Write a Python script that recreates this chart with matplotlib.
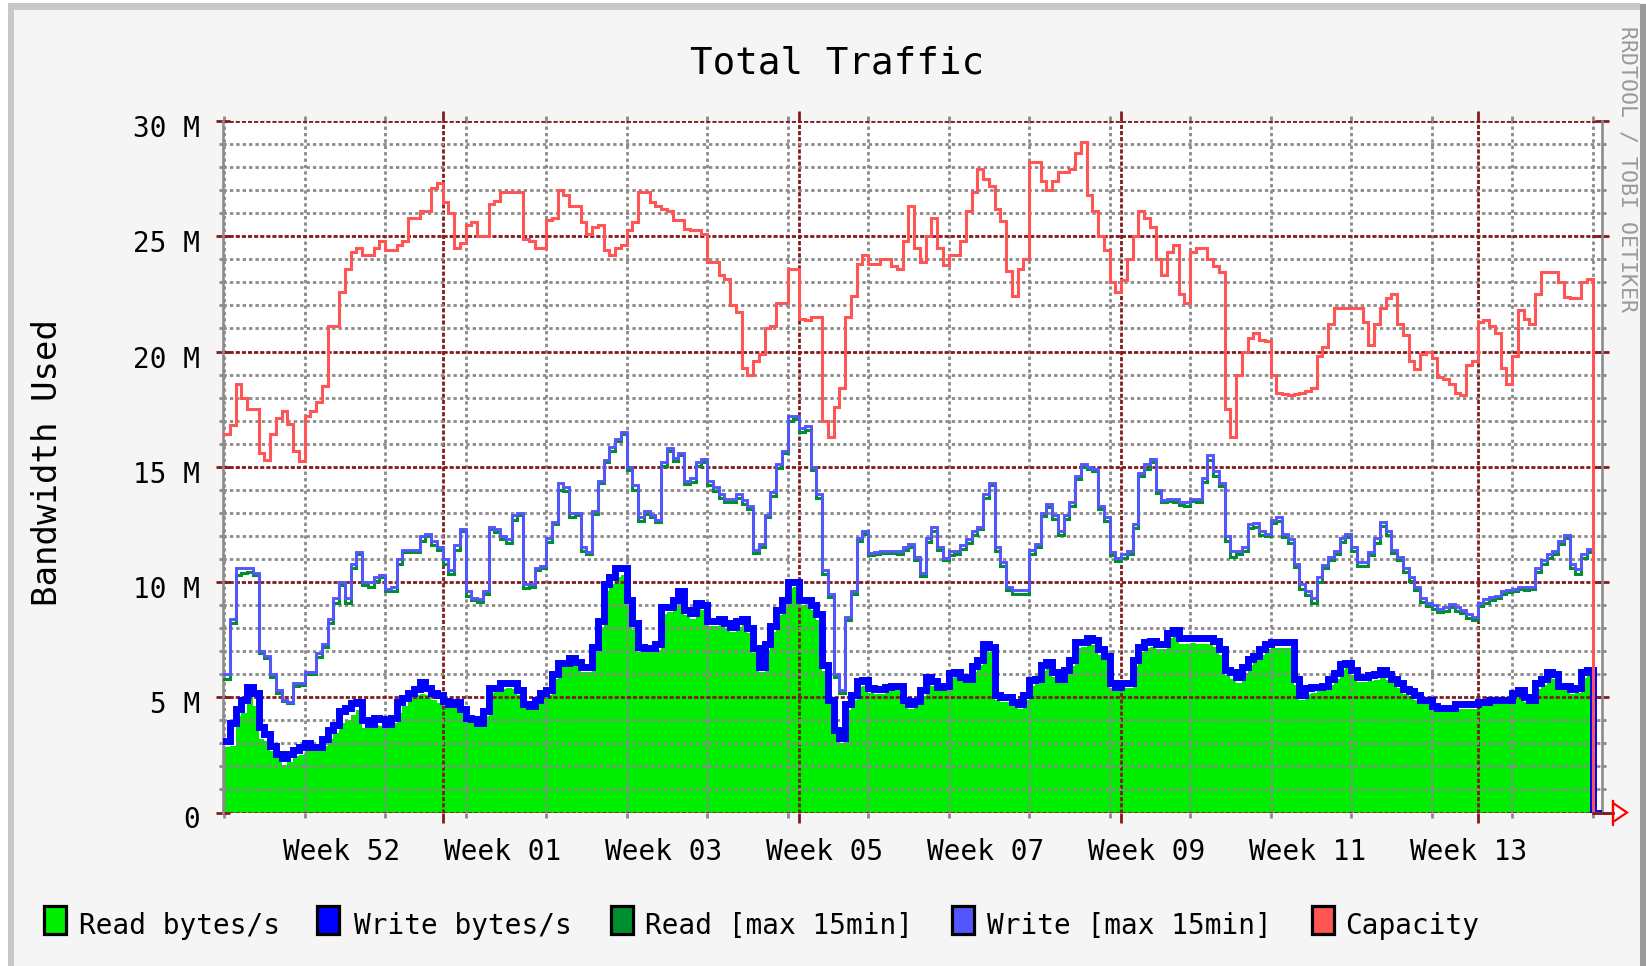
import numpy as np
import pandas as pd
import matplotlib
matplotlib.use("Agg")
import matplotlib.pyplot as plt
import matplotlib.dates as mdates
from matplotlib.ticker import MultipleLocator
from matplotlib.patches import Rectangle, Polygon
from matplotlib.lines import Line2D
from matplotlib.transforms import ScaledTranslation

W, H, DPI = 1646, 966, 100
MONO = "DejaVu Sans Mono"

# ---------------- data (values in M bytes/s, one value per 12 h) ----------------
start = "2010-12-13 00:00"
step = "12h"

capacity = [
    16.4, 16.8, 18.6, 18.0, 17.5, 17.5, 15.6, 15.3, 16.4, 17.1,
    17.4, 16.85, 15.7, 15.25, 17.2, 17.4, 17.8, 18.5, 21.1, 21.1,
    22.6, 23.6, 24.3, 24.5, 24.2, 24.2, 24.5, 24.8, 24.4, 24.4,
    24.6, 24.8, 25.8, 25.8, 26.1, 26.1, 27.1, 27.3, 26.5, 26.0,
    24.5, 24.7, 25.5, 25.6, 25.0, 25.0, 26.4, 26.55, 26.9, 26.9,
    26.9, 26.9, 24.9, 24.8, 24.5, 24.5, 25.7, 25.8, 27.0, 26.8,
    26.3, 26.3, 25.6, 25.1, 25.4, 25.5, 24.4, 24.2, 24.5, 24.6,
    25.25, 25.6, 26.9, 26.9, 26.5, 26.3, 26.2, 26.1, 25.7, 25.7,
    25.3, 25.25, 25.25, 25.1, 23.9, 23.9, 23.3, 23.15, 22.0, 21.7,
    19.3, 19.0, 19.6, 19.9, 21.0, 21.1, 22.1, 22.1, 23.6, 23.6,
    21.4, 21.35, 21.5, 21.5, 17.0, 16.3, 17.6, 18.4, 21.5, 22.4,
    23.8, 24.2, 23.8, 23.8, 24.0, 24.0, 23.7, 23.6, 24.8, 26.3,
    24.5, 23.9, 25.0, 25.8, 24.5, 23.75, 24.2, 24.2, 24.8, 26.1,
    26.9, 27.9, 27.5, 27.2, 26.2, 25.65, 23.5, 22.4, 23.6, 24.0,
    28.2, 28.2, 27.4, 27.0, 27.4, 27.8, 27.8, 27.9, 28.6, 29.1,
    26.8, 26.1, 25.0, 24.4, 23.0, 22.6, 23.1, 24.0, 25.0, 26.1,
    25.8, 25.4, 24.0, 23.3, 24.3, 24.6, 22.5, 22.1, 24.3, 24.5,
    24.5, 24.0, 23.7, 23.45, 17.5, 16.3, 19.0, 20.0, 20.6, 20.8,
    20.5, 20.45, 19.0, 18.2, 18.15, 18.1, 18.15, 18.2, 18.3, 18.4,
    19.8, 20.2, 21.2, 21.9, 21.9, 21.9, 21.9, 21.9, 21.3, 20.3,
    21.2, 21.9, 22.3, 22.5, 21.2, 20.7, 19.6, 19.25, 19.9, 20.0,
    19.7, 18.9, 18.8, 18.6, 18.2, 18.1, 19.4, 19.6, 21.3, 21.35,
    21.1, 20.8, 19.3, 18.6, 19.8, 21.8, 21.4, 21.2, 22.5, 23.45,
    23.45, 23.45, 23.0, 22.35, 22.3, 22.3, 23.0, 23.15,
]

write_max = [
    6.0, 8.4, 10.6, 10.6, 10.6, 10.4, 7.0, 6.8, 6.0, 5.3,
    4.9, 4.8, 5.6, 5.6, 6.1, 6.1, 6.9, 7.3, 8.4, 9.3,
    10.0, 9.3, 10.8, 11.3, 10.0, 10.0, 10.2, 10.3, 9.7, 9.8,
    11.0, 11.4, 11.4, 11.4, 12.0, 12.1, 11.8, 11.5, 11.0, 10.5,
    11.6, 12.3, 9.6, 9.3, 9.25, 9.6, 12.4, 12.3, 12.0, 11.85,
    12.9, 13.0, 9.9, 9.9, 10.6, 10.7, 11.9, 12.6, 14.3, 14.1,
    13.0, 13.0, 11.5, 11.3, 13.1, 14.4, 15.3, 15.85, 16.2, 16.5,
    15.0, 14.2, 12.8, 13.1, 12.9, 12.7, 15.2, 15.8, 15.4, 15.6,
    14.4, 14.5, 15.2, 15.35, 14.4, 14.1, 13.8, 13.6, 13.6, 13.8,
    13.55, 13.3, 11.4, 11.65, 12.9, 13.9, 15.1, 15.7, 17.2, 17.2,
    16.7, 16.75, 15.0, 13.8, 10.5, 9.5, 6.0, 5.3, 8.5, 9.6,
    11.9, 12.2, 11.25, 11.3, 11.35, 11.35, 11.35, 11.35, 11.5, 11.65,
    11.1, 10.4, 11.9, 12.4, 11.5, 11.05, 11.35, 11.35, 11.6, 11.85,
    12.2, 12.4, 13.8, 14.3, 11.5, 10.85, 9.8, 9.65, 9.65, 9.65,
    11.4, 11.65, 13.0, 13.4, 12.9, 12.2, 12.9, 13.45, 14.6, 15.1,
    15.0, 14.9, 13.3, 12.8, 11.3, 11.05, 11.2, 11.35, 12.5, 14.75,
    15.1, 15.35, 14.0, 13.55, 13.6, 13.6, 13.45, 13.45, 13.6, 13.6,
    14.5, 15.5, 14.8, 14.3, 12.0, 11.35, 11.35, 11.5, 12.5, 12.55,
    12.2, 12.1, 12.7, 12.8, 12.1, 11.85, 10.8, 9.9, 9.6, 9.3,
    10.2, 10.75, 11.1, 11.35, 11.9, 12.1, 11.5, 10.85, 10.85, 11.3,
    11.9, 12.6, 12.2, 11.4, 11.1, 10.6, 10.2, 9.8, 9.3, 9.1,
    9.0, 8.85, 8.9, 9.05, 8.9, 8.8, 8.6, 8.5, 9.1, 9.25,
    9.35, 9.4, 9.6, 9.65, 9.7, 9.8, 9.8, 9.8, 10.6, 10.96,
    11.2, 11.35, 11.8, 12.05, 10.8, 10.55, 11.2, 11.45,
]

read_max = [
    5.8, 8.2, 10.3, 10.4, 10.45, 10.3, 6.9, 6.7, 5.9, 5.2,
    4.85, 4.75, 5.5, 5.55, 6.0, 6.0, 6.75, 7.2, 8.2, 9.1,
    9.85, 9.1, 10.6, 11.2, 9.85, 9.8, 10.05, 10.2, 9.6, 9.6,
    10.8, 11.3, 11.3, 11.3, 11.8, 12.0, 11.6, 11.4, 10.8, 10.35,
    11.4, 12.2, 9.4, 9.2, 9.15, 9.5, 12.3, 12.15, 11.85, 11.7,
    12.7, 12.9, 9.75, 9.8, 10.5, 10.6, 11.75, 12.5, 14.0, 13.95,
    12.8, 12.9, 11.35, 11.2, 12.95, 14.3, 15.2, 15.7, 16.1, 16.4,
    14.85, 14.0, 12.65, 12.95, 12.8, 12.6, 15.05, 15.7, 15.25, 15.5,
    14.25, 14.35, 15.05, 15.2, 14.2, 13.95, 13.65, 13.45, 13.45, 13.65,
    13.4, 13.15, 11.25, 11.5, 12.8, 13.75, 14.95, 15.6, 17.0, 17.05,
    16.5, 16.6, 14.85, 13.65, 10.35, 9.35, 5.9, 5.2, 8.35, 9.5,
    11.8, 12.1, 11.15, 11.2, 11.25, 11.25, 11.25, 11.2, 11.4, 11.5,
    10.95, 10.25, 11.75, 12.2, 11.4, 10.95, 11.15, 11.2, 11.45, 11.7,
    12.05, 12.3, 13.65, 14.2, 11.35, 10.7, 9.65, 9.5, 9.5, 9.5,
    11.2, 11.5, 12.85, 13.25, 12.75, 12.05, 12.75, 13.3, 14.45, 15.0,
    14.9, 14.8, 13.15, 12.65, 11.15, 10.9, 11.05, 11.2, 12.35, 14.6,
    14.9, 15.2, 13.85, 13.45, 13.5, 13.45, 13.35, 13.3, 13.5, 13.45,
    14.35, 15.3, 14.6, 14.15, 11.8, 11.1, 11.2, 11.35, 12.35, 12.4,
    12.05, 12.0, 12.55, 12.65, 11.95, 11.7, 10.65, 9.7, 9.45, 9.1,
    10.0, 10.6, 10.95, 11.2, 11.75, 11.95, 11.35, 10.7, 10.7, 11.15,
    11.7, 12.45, 12.05, 11.25, 10.95, 10.45, 10.05, 9.65, 9.15, 8.95,
    8.85, 8.7, 8.75, 8.9, 8.75, 8.65, 8.45, 8.35, 8.95, 9.1,
    9.2, 9.3, 9.5, 9.55, 9.6, 9.7, 9.65, 9.7, 10.45, 10.8,
    11.05, 11.2, 11.65, 11.9, 10.6, 10.35, 11.05, 11.3,
]

write_avg = [
    3.1, 3.9, 4.5, 4.9, 5.45, 5.2, 3.7, 3.4, 2.9, 2.55,
    2.35, 2.55, 2.7, 2.85, 3.0, 2.85, 2.85, 3.2, 3.6, 3.8,
    4.4, 4.55, 4.75, 4.8, 4.0, 3.85, 4.1, 4.05, 3.85, 4.1,
    4.8, 4.95, 5.2, 5.35, 5.65, 5.4, 5.2, 5.1, 4.85, 4.7,
    4.8, 4.5, 4.1, 4.05, 3.9, 4.4, 5.4, 5.4, 5.6, 5.6,
    5.6, 5.3, 4.7, 4.6, 4.9, 5.2, 5.3, 6.0, 6.5, 6.5,
    6.7, 6.55, 6.3, 6.3, 7.2, 8.3, 9.9, 10.2, 10.6, 10.6,
    9.2, 8.2, 7.2, 7.15, 7.15, 7.3, 8.9, 8.9, 9.2, 9.6,
    8.8, 8.65, 9.1, 9.0, 8.3, 8.3, 8.4, 8.2, 8.05, 8.3,
    8.4, 8.0, 7.15, 6.3, 7.3, 8.1, 8.8, 9.2, 10.0, 10.0,
    9.2, 9.2, 9.0, 8.6, 6.4, 4.9, 3.6, 3.25, 4.7, 5.1,
    5.7, 5.75, 5.4, 5.35, 5.35, 5.45, 5.5, 5.5, 4.9, 4.7,
    4.85, 5.3, 5.9, 5.7, 5.45, 5.5, 6.05, 6.1, 5.9, 5.8,
    6.35, 6.6, 7.3, 7.2, 5.1, 5.0, 5.0, 4.8, 4.7, 5.1,
    5.75, 5.8, 6.4, 6.55, 6.1, 5.8, 6.2, 6.6, 7.4, 7.4,
    7.55, 7.5, 7.1, 6.8, 5.6, 5.45, 5.6, 5.6, 6.6, 7.2,
    7.4, 7.45, 7.3, 7.3, 7.8, 7.9, 7.55, 7.55, 7.55, 7.55,
    7.55, 7.55, 7.45, 7.1, 6.2, 6.1, 5.9, 6.3, 6.65, 6.8,
    7.1, 7.3, 7.4, 7.4, 7.4, 7.4, 5.8, 5.1, 5.4, 5.45,
    5.45, 5.5, 5.8, 6.05, 6.45, 6.5, 6.2, 5.9, 5.9, 5.95,
    6.0, 6.2, 6.0, 5.8, 5.6, 5.35, 5.25, 5.1, 4.9, 4.9,
    4.6, 4.55, 4.55, 4.55, 4.7, 4.7, 4.7, 4.7, 4.8, 4.8,
    4.9, 4.9, 4.9, 4.9, 5.2, 5.3, 5.0, 4.9, 5.6, 5.8,
    6.1, 6.0, 5.5, 5.5, 5.35, 5.4, 6.1, 6.2,
]

read_avg = [
    2.85, 2.9, 4.2, 4.3, 5.0, 4.6, 3.2, 3.1, 2.65, 2.35,
    2.05, 2.2, 2.45, 2.5, 2.65, 2.7, 2.7, 2.9, 3.2, 3.45,
    3.9, 4.0, 4.25, 4.45, 3.65, 3.65, 3.8, 3.75, 3.7, 3.9,
    4.3, 4.6, 5.05, 5.1, 5.15, 5.1, 4.9, 4.75, 4.6, 4.55,
    4.6, 4.3, 3.95, 3.9, 3.75, 4.2, 5.2, 5.25, 5.35, 5.4,
    5.35, 5.1, 4.55, 4.45, 4.7, 5.0, 5.1, 5.8, 6.3, 6.35,
    6.5, 6.35, 6.1, 6.1, 7.0, 8.0, 9.6, 9.9, 10.2, 10.3,
    8.95, 7.9, 6.95, 6.95, 6.95, 7.05, 8.6, 8.7, 8.95, 9.3,
    8.55, 8.4, 8.85, 8.8, 8.1, 8.1, 8.15, 8.0, 7.85, 8.05,
    8.2, 7.8, 6.9, 6.1, 7.05, 7.85, 8.55, 9.0, 9.75, 9.8,
    9.0, 8.95, 8.8, 8.35, 6.15, 4.7, 3.4, 3.0, 4.45, 4.9,
    5.45, 5.5, 5.2, 5.15, 5.15, 5.25, 5.3, 5.3, 4.7, 4.5,
    4.65, 5.05, 5.6, 5.5, 5.25, 5.3, 5.85, 5.9, 5.7, 5.6,
    6.1, 6.4, 7.0, 6.95, 4.9, 4.8, 4.8, 4.6, 4.5, 4.9,
    5.5, 5.6, 6.15, 6.3, 5.9, 5.6, 6.0, 6.35, 7.15, 7.2,
    7.3, 7.25, 6.85, 6.6, 5.4, 5.25, 5.4, 5.4, 6.35, 6.95,
    7.15, 7.2, 7.1, 7.1, 7.55, 7.7, 7.3, 7.3, 7.35, 7.3,
    7.3, 7.3, 7.2, 6.85, 5.95, 5.8, 5.6, 6.05, 6.4, 6.6,
    6.85, 7.1, 7.15, 7.15, 7.15, 7.15, 5.55, 4.9, 5.15, 5.2,
    5.25, 5.3, 5.55, 5.8, 6.2, 6.3, 5.95, 5.65, 5.65, 5.7,
    5.75, 5.95, 5.75, 5.6, 5.4, 5.15, 5.05, 4.9, 4.7, 4.7,
    4.4, 4.35, 4.35, 4.35, 4.5, 4.5, 4.5, 4.5, 4.6, 4.6,
    4.7, 4.7, 4.7, 4.7, 5.0, 5.05, 4.8, 4.7, 5.35, 5.55,
    5.85, 5.8, 5.3, 5.3, 5.15, 5.2, 5.85, 5.95,
]

week_labels = ["Week 52", "Week 01", "Week 03", "Week 05",
               "Week 07", "Week 09", "Week 11", "Week 13"]
week_label_mondays = ["2010-12-20", "2011-01-03", "2011-01-17", "2011-01-31",
                      "2011-02-14", "2011-02-28", "2011-03-14", "2011-03-28"]
y_ticks = [0, 5, 10, 15, 20, 25, 30]
y_tick_labels = ["0", "5 M", "10 M", "15 M", "20 M", "25 M", "30 M"]
legend_labels = ["Read bytes/s", "Write bytes/s", "Read [max 15min]",
                 "Write [max 15min]", "Capacity"]

# ---------------- styles ----------------
C_READ, C_WRITE, C_RMAX, C_WMAX, C_CAP = "#00ee00", "#0000ff", "#008f2f", "#5555ff", "#ff5555"
legend_colors = [C_READ, C_WRITE, C_RMAX, C_WMAX, C_CAP]
C_MAJOR, C_MINOR, C_AXIS = "#821c1c", "#8a8a8a", "#8c8c8c"
BG = "#f5f5f5"

fig = plt.figure(figsize=(W / DPI, H / DPI), dpi=DPI)
fig.patch.set_facecolor(BG)


def px_rect(x0, y0, x1, y1, color, **kw):
    fig.add_artist(Rectangle((x0 / W, 1 - y1 / H), (x1 - x0) / W, (y1 - y0) / H,
                             transform=fig.transFigure, **kw, fc=color))


# frame
px_rect(0, 0, W, 3, "white", ec="none")
px_rect(0, 0, 8, H, "white", ec="none")
px_rect(8, 3, 1640, 10, "#c8c8c8", ec="none")
px_rect(8, 3, 14, H, "#c8c8c8", ec="none")
px_rect(1640, 4, W, H, "#9a9a9a", ec="none")

# axes
ax_l, ax_r, ax_t, ax_b = 223, 1602, 121, 812.5
ax = fig.add_axes([ax_l / W, 1 - ax_b / H, (ax_r - ax_l) / W, (ax_b - ax_t) / H])
ax.set_facecolor("white")

base = mdates.date2num(pd.Timestamp("2011-01-01").to_pydatetime())
ppd = 11.5  # pixels per day
x_left = base + (ax_l - 442.5) / ppd
x_right = base + (ax_r - 442.5) / ppd

edges = pd.date_range(start, periods=len(capacity) + 1, freq=step)
x = mdates.date2num(edges.to_pydatetime())


def ext(v):
    return np.r_[np.asarray(v, float), v[-1]]


def ext_tail(v):
    return np.r_[np.asarray(v, float), v[-1], 0.0, 0.0]


x_tail = np.r_[x, x[-1], x_right]

ax.fill_between(x, 0, ext(read_avg), step="post", color=C_READ, lw=0, zorder=1)
ax.step(x_tail, ext_tail(write_avg), where="post", color=C_WRITE, lw=5.0, zorder=3,
        solid_joinstyle="miter")
ax.step(x, ext(read_max), where="post", color=C_RMAX, lw=2.2, zorder=3.1,
        solid_joinstyle="miter")
ax.step(x_tail, ext_tail(write_max), where="post", color=C_WMAX, lw=2.1, zorder=3.2,
        solid_joinstyle="miter")
ax.step(x_tail, ext_tail(capacity), where="post", color=C_CAP, lw=2.2, zorder=3.3,
        solid_joinstyle="miter")

ax.set_xlim(x_left, x_right)
ax.set_ylim(0, 30)

ax.xaxis.set_major_locator(mdates.MonthLocator())
ax.xaxis.set_minor_locator(mdates.WeekdayLocator(byweekday=mdates.MO))
ax.yaxis.set_major_locator(MultipleLocator(5))
ax.yaxis.set_minor_locator(MultipleLocator(1))

ax.set_axisbelow("line")
ax.grid(True, which="minor", color=C_MINOR, linestyle=(0, (1.2, 1.1)), linewidth=2.0)
ax.grid(True, which="major", color=C_MAJOR, linestyle=(0, (1.5, 0.7)), linewidth=2.0)

ax.tick_params(axis="y", which="major", direction="inout", length=9.4, width=2.0,
               color=C_MAJOR, left=True, right=True, labelleft=False, labelright=False)
ax.tick_params(axis="y", which="minor", direction="out", length=3.2, width=2.0,
               color=C_MINOR, left=True, right=True)
ax.tick_params(axis="x", which="major", direction="out", length=7, width=2.0,
               color=C_MAJOR, bottom=True, top=True, labelbottom=False, labeltop=False)
ax.tick_params(axis="x", which="minor", direction="out", length=3.5, width=2.0,
               color=C_MINOR, bottom=True, top=True)

for s in ("top", "bottom"):
    ax.spines[s].set_visible(False)
for s in ("left", "right"):
    ax.spines[s].set_color(C_AXIS)
    ax.spines[s].set_linewidth(1.9)

# y tick labels
ytr = ax.get_yaxis_transform() + ScaledTranslation(-23 / DPI, -16 / DPI, fig.dpi_scale_trans)
for v, lbl in zip(y_ticks, y_tick_labels):
    ax.text(0, v, lbl, transform=ytr, ha="right", va="baseline",
            fontsize=20, family=MONO, color="black", clip_on=False)

# week labels
xtr = ax.get_xaxis_transform() + ScaledTranslation(0, -(860 - ax_b) / DPI, fig.dpi_scale_trans)
for lbl, mon in zip(week_labels, week_label_mondays):
    xv = mdates.date2num(pd.Timestamp(mon).to_pydatetime()) + 3.2
    ax.text(xv, 0, lbl, transform=xtr, ha="center", va="baseline",
            fontsize=20, family=MONO, color="black", clip_on=False)

# x axis end + arrow
fig.add_artist(Line2D([1593 / W, 1613 / W], [1 - ax_b / H] * 2, transform=fig.transFigure,
                      color=C_MAJOR, lw=2.0))
fig.add_artist(Line2D([1613 / W, 1613 / W], [1 - 801 / H, 1 - 825 / H],
                      transform=fig.transFigure, color="#ff0000", lw=1.6))
fig.add_artist(Polygon([[1613 / W, 1 - 803 / H], [1627 / W, 1 - 812.5 / H],
                        [1613 / W, 1 - 822 / H]], closed=True, transform=fig.transFigure,
                       fc="white", ec="#ff0000", lw=1.6))

# texts
fig.text(837 / W, 1 - 73 / H, "Total Traffic", ha="center", va="baseline",
         fontsize=27, family=MONO, color="black")
fig.text(48 / W, 1 - 462.5 / H, "Bandwidth Used", rotation=90, ha="center",
         va="center", fontsize=24.5, family=MONO, color="black")
fig.text(1628 / W, 1 - 169 / H, "RRDTOOL / TOBI OETIKER", rotation=270, ha="center",
         va="center", fontsize=15.5, family=MONO, color="#999999")

# legend
box_x = [42, 315, 609, 950, 1310]
text_x = [79, 354, 645, 987, 1345]
for bx, tx, lbl, col in zip(box_x, text_x, legend_labels, legend_colors):
    px_rect(bx + 1.5, 905.5, bx + 23.5, 933.5, col, ec="black", lw=2.3)
    fig.text(tx / W, 1 - 934 / H, lbl, ha="left", va="baseline",
             fontsize=20, family=MONO, color="black")

fig.savefig("out.png", dpi=DPI, facecolor=fig.get_facecolor())
